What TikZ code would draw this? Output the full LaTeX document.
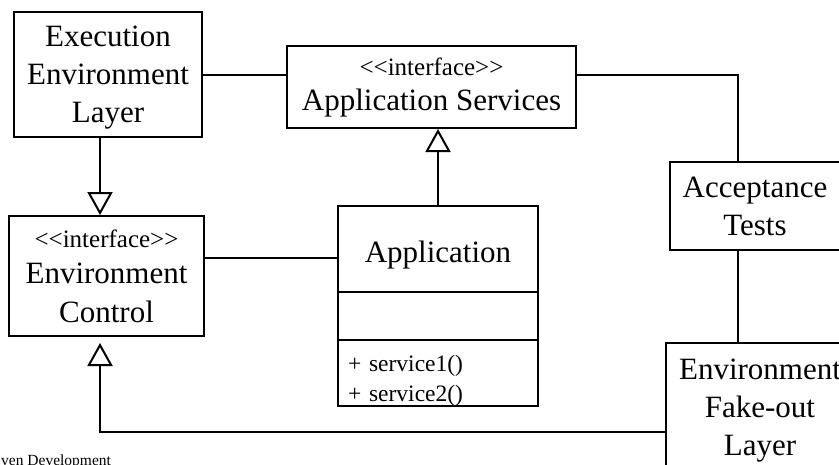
\documentclass[tikz,border=0pt]{standalone}
\usepackage{fontspec}
\setmainfont{Liberation Serif}[Ligatures=TeXOff]
\usepackage{tikz}
\usetikzlibrary{arrows.meta}

\newcommand{\stereo}[1]{{\fontsize{25}{30}\selectfont<{}<#1>{}>}}

\begin{document}
\begin{tikzpicture}[x=1pt,y=-1pt,
	box/.style={draw=black, line width=2pt, inner sep=0pt, align=center, font=\fontsize{31}{38}\selectfont},
	opsbox/.style={draw=black, line width=2pt, inner xsep=10pt, inner ysep=0pt, text width=180pt, align=left, font=\fontsize{23.5}{30}\selectfont},
	gen/.style={-{Triangle[open, width=25pt, length=23pt]}, line width=2pt},
	link/.style={line width=2pt}]
			\useasboundingbox (0,0) rectangle (839,464);

			%% boxes
			\node[box, minimum width=188pt, minimum height=125pt, text depth=-4pt] (exec) at (108,74.5) {Execution\\Environment\\Layer};
			\node[box, minimum width=289pt, minimum height=82pt] (appsvc) at (431.5,87) {\stereo{interface}\\[-3pt]Application Services};
			\node[box, minimum width=195pt, minimum height=120pt] (ec) at (106.5,276) {\stereo{interface}\\[-2pt]Environment\\[1pt]Control};
			\node[box, minimum width=200pt, minimum height=86pt, text height=33pt] (apptitle) at (438,249) {Application};
			\node[box, minimum width=200pt, minimum height=48pt] (appattr) at (438,316) {};
			\node[opsbox, minimum height=66pt, text depth=19pt] (appops) at (438,373) {+ service1()\\+ service2()};
			\node[box, minimum width=170pt, minimum height=88pt] (accept) at (755,206) {Acceptance\\Tests};
			\node[box, minimum width=188pt, minimum height=136pt] (fake) at (760,411) {Environment\\Fake-out\\Layer};
			\node[anchor=base west, inner sep=0pt, font=\fontsize{15.5}{18}\selectfont] (credit) at (1,465) {ven Development};

			\coordinate (testx) at (738,0);
			\coordinate (genx) at (100,0);
			\coordinate (fakey) at (0,432);
			\coordinate (appy) at (0,258);

			%% lines
			\draw[link] (exec.east) -- (exec.east -| appsvc.west);
			\draw[link] (exec.east -| appsvc.east) -| (testx |- accept.north);
			\draw[link] (testx |- accept.south) -- (testx |- fake.north);
			\draw[link] (appy -| ec.east) -- (appy -| apptitle.west);
			\draw[gen] (genx |- exec.south) -- (genx |- ec.north);
			\draw[gen] (apptitle.north) -- (apptitle.north |- appsvc.south);
			\draw[gen, shorten >=6pt] (fakey -| fake.west) -| (genx |- ec.south);
		\end{tikzpicture}
\end{document}
